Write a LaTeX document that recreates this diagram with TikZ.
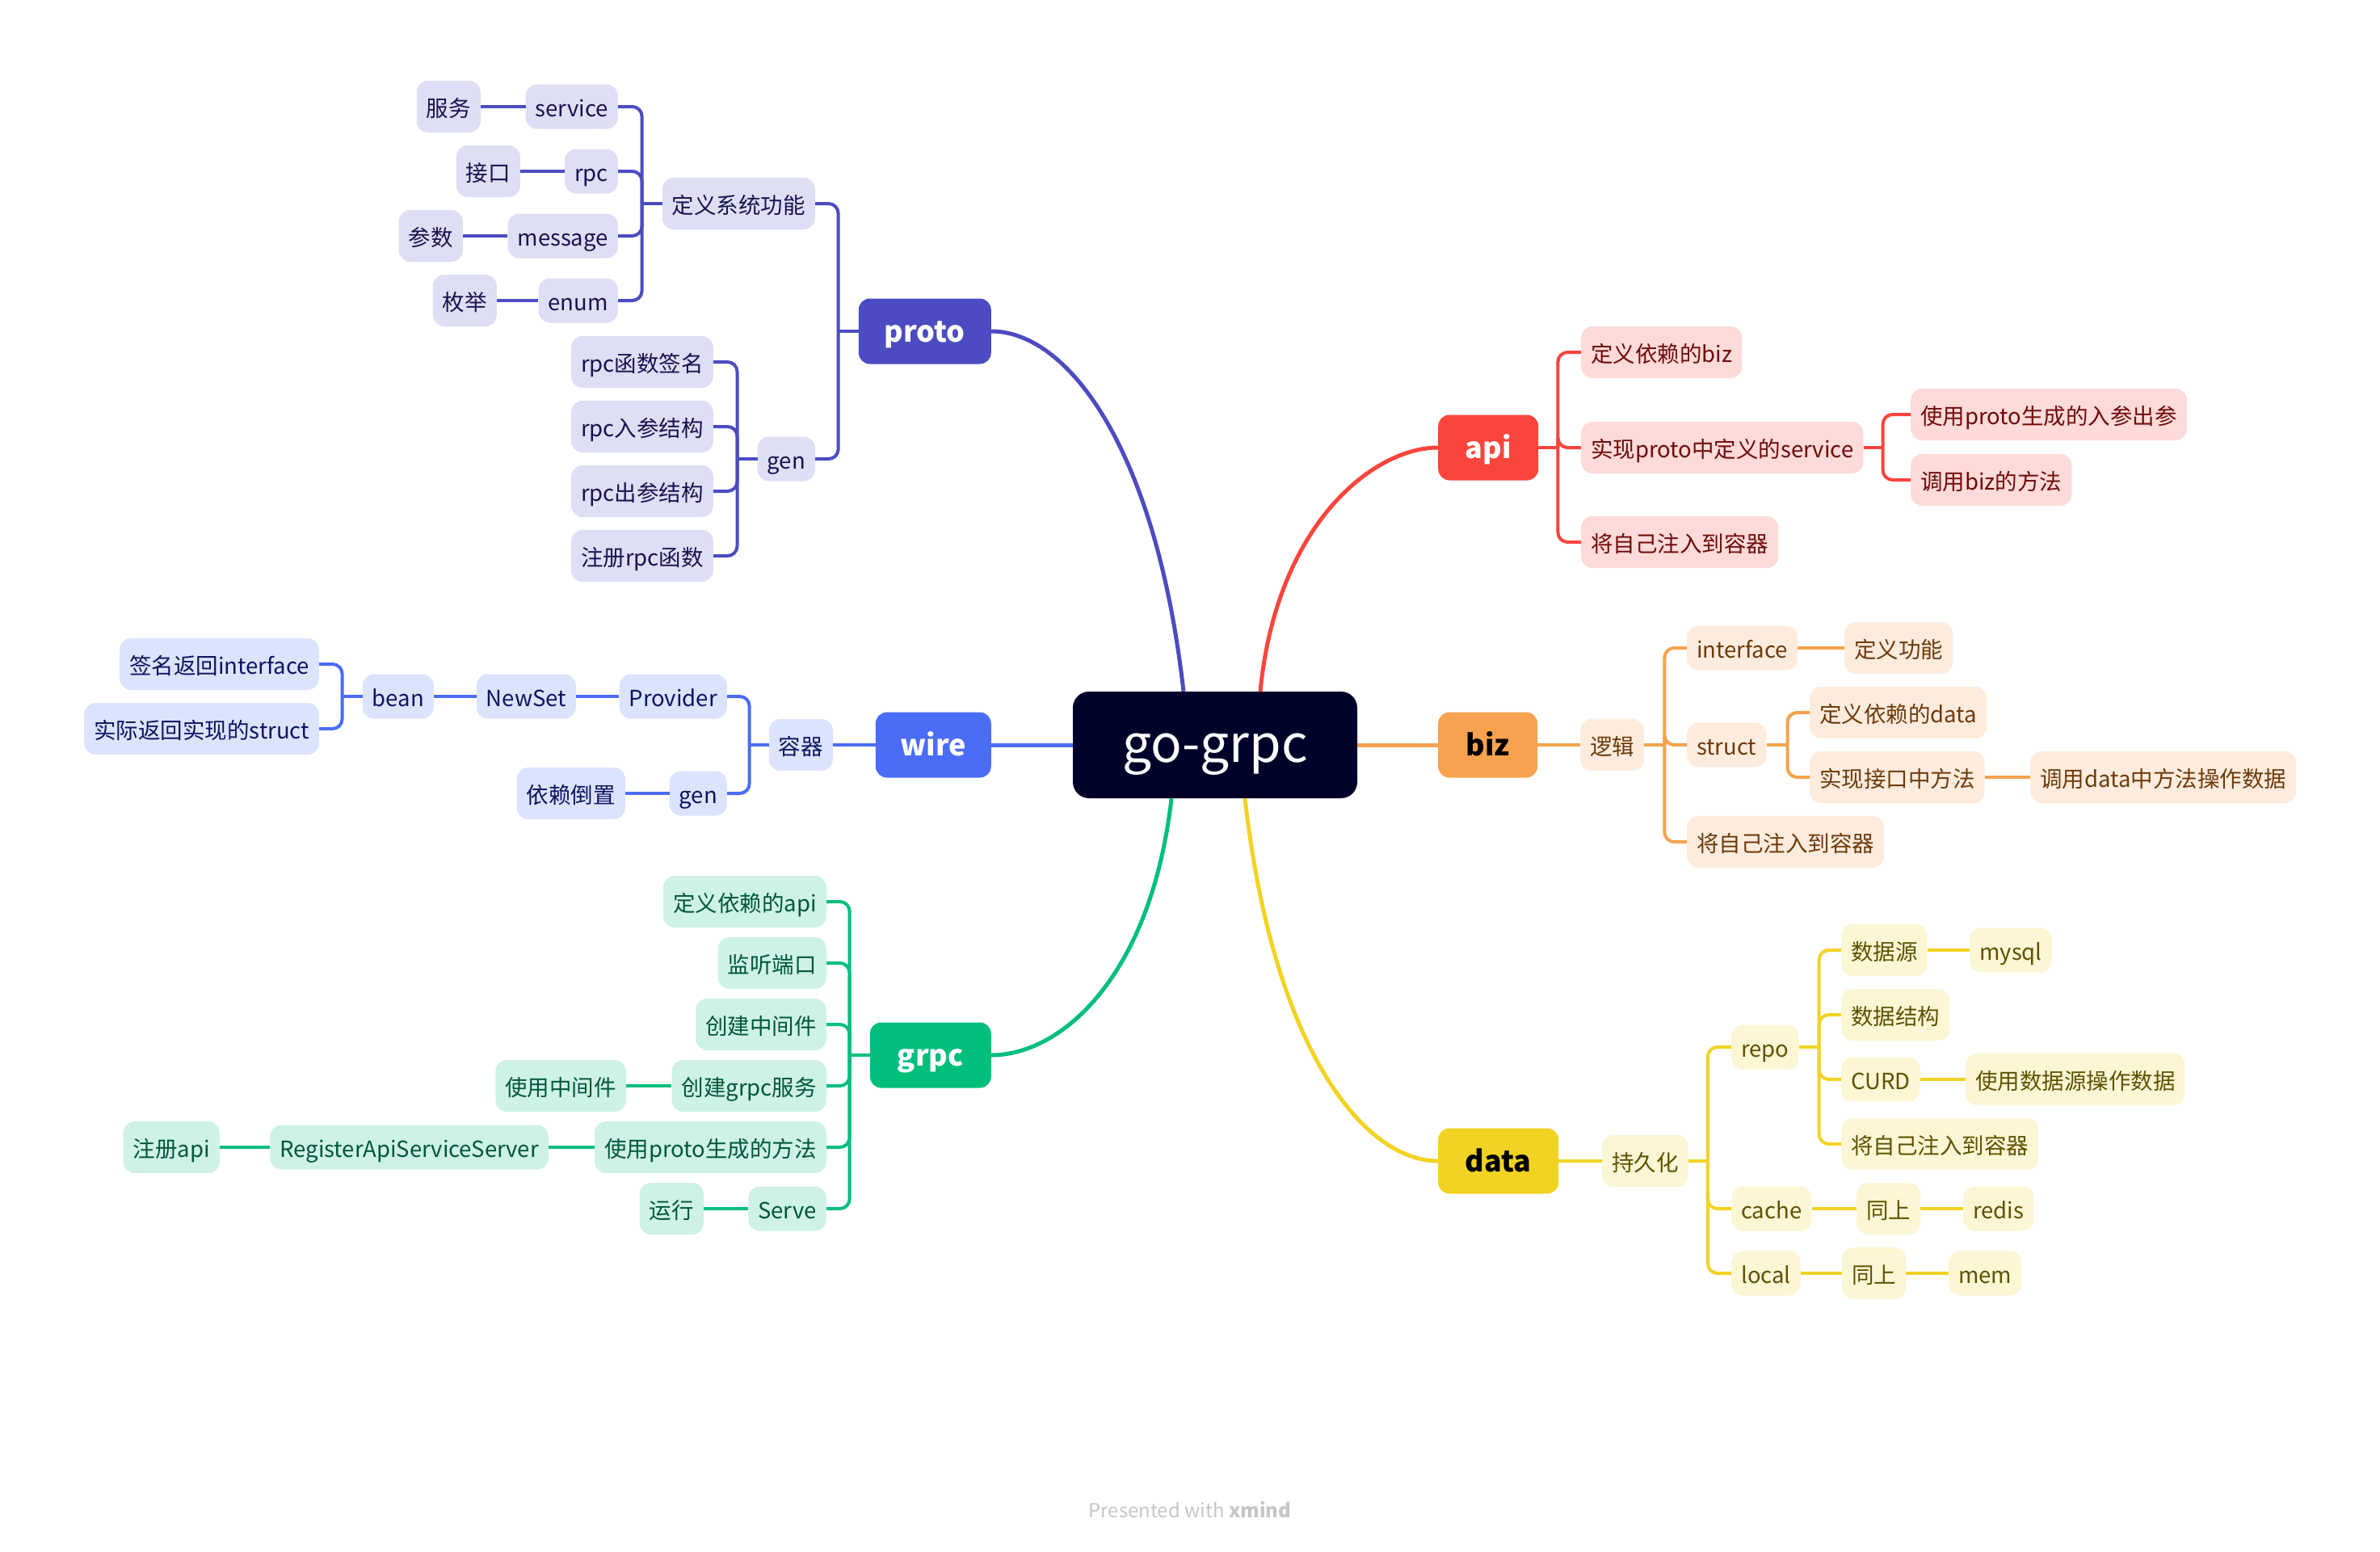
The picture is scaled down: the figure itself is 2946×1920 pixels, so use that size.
\documentclass[tikz,border=0pt]{standalone}
\usepackage{fontspec}
\setmainfont{Noto Sans CJK SC}
\usepackage{xcolor}

\definecolor{rootfill}{HTML}{000229}
\definecolor{protomain}{HTML}{4C4BC1}
\definecolor{protolight}{HTML}{DEDEF5}
\definecolor{prototext}{HTML}{16154F}
\definecolor{wiremain}{HTML}{4B6CF6}
\definecolor{wirelight}{HTML}{DCE3FD}
\definecolor{wiretext}{HTML}{0B1660}
\definecolor{grpcmain}{HTML}{00BF7C}
\definecolor{grpclight}{HTML}{CEF2E4}
\definecolor{grpctext}{HTML}{00573A}
\definecolor{apimain}{HTML}{FA453D}
\definecolor{apilight}{HTML}{FEDAD8}
\definecolor{apitext}{HTML}{6E0B0B}
\definecolor{bizmain}{HTML}{F6A24E}
\definecolor{bizlight}{HTML}{FDECDD}
\definecolor{biztext}{HTML}{6D3A0C}
\definecolor{datamain}{HTML}{F2D324}
\definecolor{datalight}{HTML}{FCF6D5}
\definecolor{datatext}{HTML}{5E5200}
\definecolor{footgray}{HTML}{C6C6C6}

\begin{document}
\begin{tikzpicture}[
        x=1pt, y=-1pt,
        every node/.style={inner sep=0pt},
        root/.style={rectangle, fill=rootfill, text=white, rounded corners=20pt, minimum width=352pt, minimum height=132pt, font=\fontsize{64}{76}\selectfont, text height=50pt, text depth=7pt},
        topic/.style={rectangle, rounded corners=14pt, minimum height=81pt, text=white, font=\bfseries\fontsize{36}{43}\selectfont, text height=30pt, text depth=3pt},
        leaf/.style={rectangle, rounded corners=14pt, minimum height=64pt, inner xsep=12pt, font=\fontsize{27.5}{33}\selectfont, text height=25pt, text depth=0pt},
        lat/.style={minimum height=55pt},
        pleaf/.style={leaf, fill=protolight, text=prototext},
        wleaf/.style={leaf, fill=wirelight, text=wiretext},
        gleaf/.style={leaf, fill=grpclight, text=grpctext},
        aleaf/.style={leaf, fill=apilight, text=apitext},
        bleaf/.style={leaf, fill=bizlight, text=biztext},
        dleaf/.style={leaf, fill=datalight, text=datatext},
        plink/.style={draw=protomain, line width=4pt},
        wlink/.style={draw=wiremain, line width=4pt},
        glink/.style={draw=grpcmain, line width=4pt},
        alink/.style={draw=apimain, line width=4pt},
        blink/.style={draw=bizmain, line width=4pt},
        dlink/.style={draw=datamain, line width=4pt},
        elbow/.style={rounded corners=12pt},
        trunk/.style={line width=5pt}
    ]
    \fill[white] (0,0) rectangle (2946,1920);
    \useasboundingbox (0,0) rectangle (2946,1920);

    % centre and main topics
    \node [root] (root) at (1504,922) {go-grpc};
    \node [topic, fill=protomain, minimum width=164pt, anchor=east] (proto) at (1227,410) {proto};
    \node [topic, fill=wiremain, minimum width=143pt, anchor=east] (wire) at (1227,922) {wire};
    \node [topic, fill=grpcmain, minimum width=150pt, anchor=east] (grpc) at (1227,1306) {grpc};
    \node [topic, fill=apimain, minimum width=124pt, anchor=west] (api) at (1780,554) {api};
    \node [topic, fill=bizmain, text=black, minimum width=123pt, anchor=west] (biz) at (1780,922) {biz};
    \node [topic, fill=datamain, text=black, minimum width=149pt, anchor=west] (data) at (1780,1437) {data};

    \draw [protomain, trunk] ([xshift=-39pt]root.north) .. controls +(-35,-307) and +(92,0) .. (proto.east);
    \draw [apimain, trunk] ([xshift=56pt]root.north) .. controls +(20,-207) and +(-80,0) .. (api.west);
    \draw [grpcmain, trunk] ([xshift=-54pt]root.south) .. controls +(-25,220) and +(87,0) .. (grpc.east);
    \draw [datamain, trunk] ([xshift=37pt]root.south) .. controls +(35,310) and +(-92,0) .. (data.west);
    \draw [wiremain, trunk] (root.west) -- (wire.east);
    \draw [bizmain, trunk] (root.east) -- (biz.west);

    % proto
    \node [pleaf, anchor=east] (pdef) at (1009,252) {定义系统功能};
    \node [pleaf, lat, anchor=east] (pgen) at (1009,568) {gen};
    \node [pleaf, lat, anchor=east] (psvc) at (765,132) {service};
    \node [pleaf, lat, anchor=east] (prpc) at (765,212) {rpc};
    \node [pleaf, lat, anchor=east] (pmsg) at (765,292) {message};
    \node [pleaf, lat, anchor=east] (penum) at (765,372) {enum};
    \node [pleaf, anchor=east] (psvccn) at (595,132) {服务};
    \node [pleaf, anchor=east] (prpccn) at (644,212) {接口};
    \node [pleaf, anchor=east] (pmsgcn) at (573,292) {参数};
    \node [pleaf, anchor=east] (penumcn) at (615,372) {枚举};
    \node [pleaf, anchor=east] (pg1) at (883,448) {rpc函数签名};
    \node [pleaf, anchor=east] (pg2) at (883,528) {rpc入参结构};
    \node [pleaf, anchor=east] (pg3) at (883,608) {rpc出参结构};
    \node [pleaf, anchor=east] (pg4) at (883,688) {注册rpc函数};

    \draw [plink] (proto.west) -- ++(-25,0) coordinate (protoj);
    \foreach \c in {pdef,pgen} \draw [plink, elbow] (protoj) |- (\c.east);
    \draw [plink] (pdef.west) -- ++(-25,0) coordinate (pdefj);
    \foreach \c in {psvc,prpc,pmsg,penum} \draw [plink, elbow] (pdefj) |- (\c.east);
    \draw [plink] (pgen.west) -- ++(-25,0) coordinate (pgenj);
    \foreach \c in {pg1,pg2,pg3,pg4} \draw [plink, elbow] (pgenj) |- (\c.east);
    \draw [plink] (psvc) -- (psvccn);
    \draw [plink] (prpc) -- (prpccn);
    \draw [plink] (pmsg) -- (pmsgcn);
    \draw [plink] (penum) -- (penumcn);

    % wire
    \node [wleaf, anchor=east] (wbox) at (1031,922) {容器};
    \node [wleaf, lat, anchor=east] (wprov) at (900,862) {Provider};
    \node [wleaf, lat, anchor=east] (wgen) at (900,982) {gen};
    \node [wleaf, lat, anchor=east] (wnew) at (713,862) {NewSet};
    \node [wleaf, lat, anchor=east] (wbean) at (537,862) {bean};
    \node [wleaf, anchor=east] (wsig) at (395,822) {签名返回interface};
    \node [wleaf, anchor=east] (wimpl) at (395,902) {实际返回实现的struct};
    \node [wleaf, anchor=east] (wdip) at (774,982) {依赖倒置};

    \draw [wlink] (wire) -- (wbox);
    \draw [wlink] (wbox.west) -- ++(-24,0) coordinate (wboxj);
    \foreach \c in {wprov,wgen} \draw [wlink, elbow] (wboxj) |- (\c.east);
    \draw [wlink] (wprov) -- (wnew);
    \draw [wlink] (wnew) -- (wbean);
    \draw [wlink] (wbean.west) -- ++(-25,0) coordinate (wbeanj);
    \foreach \c in {wsig,wimpl} \draw [wlink, elbow] (wbeanj) |- (\c.east);
    \draw [wlink] (wgen) -- (wdip);

    % grpc
    \node [gleaf, anchor=east] (g1) at (1023,1116) {定义依赖的api};
    \node [gleaf, anchor=east] (g2) at (1023,1192) {监听端口};
    \node [gleaf, anchor=east] (g3) at (1023,1268) {创建中间件};
    \node [gleaf, anchor=east] (g4) at (1023,1344) {创建grpc服务};
    \node [gleaf, anchor=east] (g4a) at (775,1344) {使用中间件};
    \node [gleaf, anchor=east] (g5) at (1023,1420) {使用proto生成的方法};
    \node [gleaf, lat, anchor=east] (g5a) at (679,1420) {RegisterApiServiceServer};
    \node [gleaf, anchor=east] (g5b) at (272,1420) {注册api};
    \node [gleaf, lat, anchor=east] (g6) at (1023,1496) {Serve};
    \node [gleaf, anchor=east] (g6a) at (871,1496) {运行};

    \draw [glink] (grpc.west) -- ++(-25,0) coordinate (grpcj);
    \foreach \c in {g1,g2,g3,g4,g5,g6} \draw [glink, elbow] (grpcj) |- (\c.east);
    \draw [glink] (g4) -- (g4a);
    \draw [glink] (g5) -- (g5a);
    \draw [glink] (g5a) -- (g5b);
    \draw [glink] (g6) -- (g6a);

    % api
    \node [aleaf, anchor=west] (a1) at (1957,436) {定义依赖的biz};
    \node [aleaf, anchor=west] (a2) at (1957,554) {实现proto中定义的service};
    \node [aleaf, anchor=west] (a3) at (1957,671) {将自己注入到容器};
    \node [aleaf, anchor=west] (a2a) at (2365,513) {使用proto生成的入参出参};
    \node [aleaf, anchor=west] (a2b) at (2365,594) {调用biz的方法};

    \draw [alink] (api.east) -- ++(24,0) coordinate (apij);
    \foreach \c in {a1,a2,a3} \draw [alink, elbow] (apij) |- (\c.west);
    \draw [alink] (a2.east) -- ++(24,0) coordinate (a2j);
    \foreach \c in {a2a,a2b} \draw [alink, elbow] (a2j) |- (\c.west);

    % biz
    \node [bleaf, anchor=west] (b0) at (1956,922) {逻辑};
    \node [bleaf, lat, anchor=west] (b1) at (2088,802) {interface};
    \node [bleaf, anchor=west] (b1a) at (2283,802) {定义功能};
    \node [bleaf, lat, anchor=west] (b2) at (2088,922) {struct};
    \node [bleaf, anchor=west] (b2a) at (2240,882) {定义依赖的data};
    \node [bleaf, anchor=west] (b2b) at (2240,962) {实现接口中方法};
    \node [bleaf, anchor=west] (b2c) at (2513,962) {调用data中方法操作数据};
    \node [bleaf, anchor=west] (b3) at (2088,1042) {将自己注入到容器};

    \draw [blink] (biz) -- (b0);
    \draw [blink] (b0.east) -- ++(25,0) coordinate (b0j);
    \foreach \c in {b1,b2,b3} \draw [blink, elbow] (b0j) |- (\c.west);
    \draw [blink] (b1) -- (b1a);
    \draw [blink] (b2.east) -- ++(26,0) coordinate (b2j);
    \foreach \c in {b2a,b2b} \draw [blink, elbow] (b2j) |- (\c.west);
    \draw [blink] (b2b) -- (b2c);

    % data
    \node [dleaf, anchor=west] (d0) at (1983,1437) {持久化};
    \node [dleaf, lat, anchor=west] (d1) at (2143,1296) {repo};
    \node [dleaf, anchor=west] (d1a) at (2279,1176) {数据源};
    \node [dleaf, lat, anchor=west] (d1a1) at (2438,1176) {mysql};
    \node [dleaf, anchor=west] (d1b) at (2279,1256) {数据结构};
    \node [dleaf, lat, anchor=west] (d1c) at (2279,1336) {CURD};
    \node [dleaf, anchor=west] (d1c1) at (2433,1336) {使用数据源操作数据};
    \node [dleaf, anchor=west] (d1d) at (2279,1416) {将自己注入到容器};
    \node [dleaf, lat, anchor=west] (d2) at (2143,1496) {cache};
    \node [dleaf, anchor=west] (d2a) at (2298,1496) {同上};
    \node [dleaf, lat, anchor=west] (d2b) at (2430,1496) {redis};
    \node [dleaf, lat, anchor=west] (d3) at (2143,1576) {local};
    \node [dleaf, anchor=west] (d3a) at (2280,1576) {同上};
    \node [dleaf, lat, anchor=west] (d3b) at (2412,1576) {mem};

    \draw [dlink] (data) -- (d0);
    \draw [dlink] (d0.east) -- ++(24,0) coordinate (d0j);
    \foreach \c in {d1,d2,d3} \draw [dlink, elbow] (d0j) |- (\c.west);
    \draw [dlink] (d1.east) -- ++(25,0) coordinate (d1j);
    \foreach \c in {d1a,d1b,d1c,d1d} \draw [dlink, elbow] (d1j) |- (\c.west);
    \draw [dlink] (d1a) -- (d1a1);
    \draw [dlink] (d1c) -- (d1c1);
    \draw [dlink] (d2) -- (d2a);
    \draw [dlink] (d2a) -- (d2b);
    \draw [dlink] (d3) -- (d3a);
    \draw [dlink] (d3a) -- (d3b);

    \node [font=\fontsize{24}{29}\selectfont, text=footgray] (credit) at (1473,1869) {Presented with \textbf{xmind}};
\end{tikzpicture}
\end{document}
